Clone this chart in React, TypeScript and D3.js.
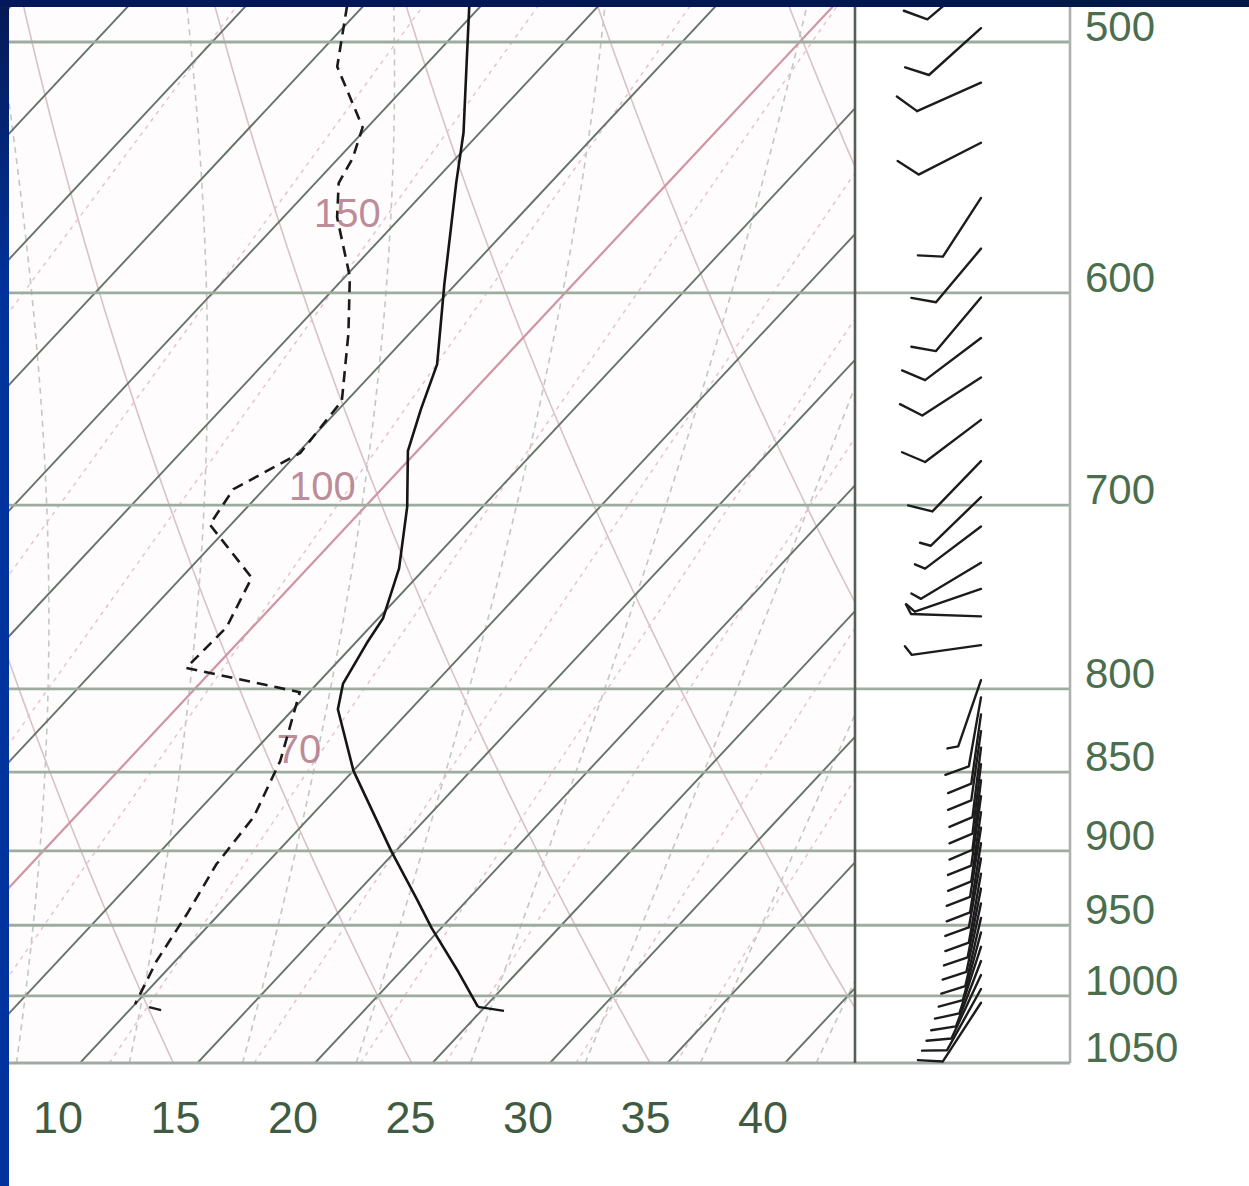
import React from 'react';
import * as d3 from 'd3';

// ---------------- data ----------------
const pressureLevels = [500, 600, 700, 800, 850, 900, 950, 1000, 1050];
const tempTicks = [10, 15, 20, 25, 30, 35, 40];
const isotherms = [-40, -35, -30, -25, -20, -15, -10, -5, 0, 5, 10, 15, 20, 25, 30, 35, 40, 45];
const dryAdiabatTheta = [-10, 0, 10, 20, 30, 40, 50, 60, 70, 80];
const moistAdiabatTheta = [0, 5, 10, 15, 20, 25, 30, 35, 40, 45];
const mixingRatios = [1, 2, 3, 5, 8, 12, 16, 20, 28, 36];

// temperature profile (hPa, degC)
const tempP = [487, 509, 534, 554, 574, 596, 632, 653, 673, 701, 733, 760, 774, 797, 812, 849, 900, 932, 952, 983, 1008];
const tempT = [-15.5, -13.2, -10.7, -9.0, -7.3, -5.5, -2.6, -1.5, -0.4, 1.8, 3.9, 5.2, 5.5, 6.1, 6.9, 10.0, 14.8, 17.8, 19.6, 22.5, 24.7];

// dew point profile (hPa, degC)
const dewP = [487, 509, 532, 544, 554, 568, 593, 618, 649, 674, 692, 710, 738, 765, 788, 802, 843, 878, 909, 941, 975, 1006];
const dewT = [-20.7, -18.7, -15.2, -14.4, -14.0, -12.7, -9.8, -7.6, -5.2, -4.9, -6.3, -5.9, -2.0, -1.1, -1.2, 4.6, 6.5, 7.6, 7.9, 8.6, 9.2, 10.0];

// wind (hPa, direction deg, speed kt)
const windP = [476, 495, 515, 538, 560, 581, 602, 620, 638, 658, 678, 696, 711, 730, 744, 759, 775, 795,
  805, 815, 825, 835, 845, 855, 865, 875, 885, 895, 905, 915, 925, 935, 945, 955, 965, 975, 985, 995, 1005];
const windDir = [230, 228, 246, 243, 213, 220, 220, 233, 237, 233, 224, 226, 233, 239, 251, 272, 262, 199,
  190, 188, 188, 187, 187, 187, 188, 188, 189, 189, 190, 190, 191, 192, 193, 195, 198, 201, 205, 209, 213];
const windSpd = [10, 10, 10, 10, 10, 10, 10, 10, 10, 10, 10, 5, 5, 5, 5, 5, 5, 5,
  10, 10, 10, 10, 10, 10, 10, 10, 10, 10, 10, 10, 10, 10, 10, 10, 10, 10, 10, 10, 10];

// line labels
const lineLabels = ['150', '100', '70'];
const lineLabelP = [572, 697.5, 844.5];
const lineLabelT = [-13.3, -3.5, 6.45];

// ---------------- layout ----------------
const W = 1249, H = 1186;
const LEFT = 9, TOP = 7, PLOT_R = 855, WIND_R = 1070, BOTTOM = 1063;
const SKEW = 0.935;

const yP = d3.scaleLog().domain([500, 1050]).range([42, 1063]);
const xT = d3.scaleLinear().domain([10, 40]).range([80, 785]);
const sx = (t: number, p: number) => xT(t) + SKEW * (BOTTOM - yP(p));
const lineGen = d3.line<[number, number]>().x(d => sx(d[1], d[0])).y(d => yP(d[0]));

function esat(tc: number) { return 6.112 * Math.exp(17.67 * tc / (tc + 243.5)); }
function moistLapse(TK: number, p: number) {
  const Rd = 287.04, cp = 1005.7, L = 2.501e6, eps = 0.622;
  const es = esat(TK - 273.15);
  const rs = eps * es / (p - es);
  return (Rd * TK + L * rs) / (p * (cp + (L * L * rs * eps) / (Rd * TK * TK)));
}
function moistAdiabat(thw: number): [number, number][] {
  const up: [number, number][] = [];
  let T = thw + 273.15;
  for (let p = 1000; p >= 465; p -= 5) {
    up.push([p, T - 273.15]);
    const dp = -5;
    const k1 = moistLapse(T, p);
    const k2 = moistLapse(T + 0.5 * dp * k1, p + 0.5 * dp);
    T += dp * k2;
  }
  const down: [number, number][] = [];
  T = thw + 273.15;
  for (let p = 1000; p < 1050; p += 5) {
    const dp = 5;
    const k1 = moistLapse(T, p);
    const k2 = moistLapse(T + 0.5 * dp * k1, p + 0.5 * dp);
    T += dp * k2;
    down.push([p + dp, T - 273.15]);
  }
  return [...down.reverse(), ...up];
}
function dryAdiabat(th: number): [number, number][] {
  const pts: [number, number][] = [];
  for (let p = 1050; p >= 460; p -= 10) pts.push([p, (th + 273.15) * Math.pow(p / 1000, 0.2857) - 273.15]);
  return pts;
}
function mixLine(r: number): [number, number][] {
  const pts: [number, number][] = [];
  for (let p = 1050; p >= 460; p -= 25) {
    const e = (r / 1000) * p / (0.622 + r / 1000);
    const l = Math.log(e / 6.112);
    pts.push([p, 243.5 * l / (17.67 - l)]);
  }
  return pts;
}

function Barb({ p, dir, spd }: { p: number; dir: number; spd: number }) {
  const x0 = 981, y0 = yP(p);
  const a = dir * Math.PI / 180;
  const ux = Math.sin(a), uy = -Math.cos(a);
  const L = 70;
  const x1 = x0 + ux * L, y1 = y0 + uy * L;
  const ang = Math.atan2(uy, ux) + 60 * Math.PI / 180;
  const fx = Math.cos(ang), fy = Math.sin(ang);
  const parts: string[] = [`M${x0},${y0}L${x1},${y1}`];
  const full = Math.floor(spd / 10);
  const half = spd % 10 >= 5;
  let k = 0;
  for (let i = 0; i < full; i++, k++) {
    const bx = x1 - ux * 8 * k, by = y1 - uy * 8 * k;
    parts.push(`M${bx},${by}L${bx + fx * 25},${by + fy * 25}`);
  }
  if (half) {
    const bx = x1 - ux * 8 * k, by = y1 - uy * 8 * k;
    parts.push(`M${bx},${by}L${bx + fx * 11},${by + fy * 11}`);
  }
  return <path d={parts.join('')} fill="none" stroke="#1c1c1c" strokeWidth={2.4} strokeLinecap="round" strokeLinejoin="round" />;
}

export default function App() {
  const tempPts: [number, number][] = tempP.map((p, i) => [p, tempT[i]]);
  const dewPts: [number, number][] = dewP.map((p, i) => [p, dewT[i]]);
  const tLast = tempPts[tempPts.length - 1];
  const dLast = dewPts[dewPts.length - 1];
  const font = "'Liberation Sans', Arial, sans-serif";

  return (
    <svg width={W} height={H} viewBox={`0 0 ${W} ${H}`}
      style={{ position: 'absolute', left: 0, top: 0, background: '#ffffff' }}
      fontFamily={font}>
      <defs>
        <clipPath id="plotClip">
          <rect x={LEFT} y={TOP} width={PLOT_R - LEFT} height={BOTTOM - TOP} />
        </clipPath>
        <linearGradient id="leftBlue" x1="0" y1="0" x2="0" y2="1">
          <stop offset="0" stopColor="#061a55" />
          <stop offset="0.25" stopColor="#00329c" />
          <stop offset="1" stopColor="#0033a0" />
        </linearGradient>
        <linearGradient id="topBlue" x1="0" y1="0" x2="1" y2="0">
          <stop offset="0" stopColor="#03185a" />
          <stop offset="1" stopColor="#001848" />
        </linearGradient>
      </defs>
      <rect x={0} y={0} width={W} height={H} fill="#ffffff" />
      <rect x={LEFT} y={TOP} width={PLOT_R - LEFT} height={BOTTOM - TOP} fill="#fefcfd" />

      <g clipPath="url(#plotClip)">
        {/* dry adiabats */}
        {dryAdiabatTheta.map(th => (
          <path key={'da' + th} d={lineGen(dryAdiabat(th)) || ''} fill="none" stroke="#d8c2c6" strokeWidth={1.6} />
        ))}
        {/* moist adiabats */}
        {moistAdiabatTheta.map(th => (
          <path key={'ma' + th} d={lineGen(moistAdiabat(th)) || ''} fill="none" stroke="#c3c8c2" strokeWidth={1.6} strokeDasharray="6,5" />
        ))}
        {/* mixing ratio */}
        {mixingRatios.map(r => (
          <path key={'mr' + r} d={lineGen(mixLine(r)) || ''} fill="none" stroke="#e6c4cf" strokeWidth={1.5} strokeDasharray="4,5" />
        ))}
        {/* isotherms */}
        {isotherms.map(t => (
          <path key={'it' + t} d={lineGen([[1050, t], [460, t]]) || ''} fill="none"
            stroke={t === 0 ? '#cf95a3' : '#66746a'} strokeWidth={t === 0 ? 2.2 : 1.9} />
        ))}
        {/* line labels */}
        {lineLabels.map((s, i) => (
          <text key={'ll' + s} x={sx(lineLabelT[i], lineLabelP[i])} y={yP(lineLabelP[i])} fontSize={40} fill="#b07886" fillOpacity={0.85}>{s}</text>
        ))}
      </g>

      {/* isobars */}
      {pressureLevels.map(p => (
        <line key={'ib' + p} x1={LEFT} x2={WIND_R} y1={yP(p)} y2={yP(p)} stroke="#9eaca0" strokeWidth={2.8} />
      ))}

      {/* profiles */}
      <g clipPath="url(#plotClip)">
        <path d={lineGen(tempPts) || ''} fill="none" stroke="#151515" strokeWidth={2.6} strokeLinejoin="round" />
        <path d={`M${sx(tLast[1], tLast[0])},${yP(tLast[0])}l26,4`} fill="none" stroke="#151515" strokeWidth={2.4} />
        <path d={lineGen(dewPts) || ''} fill="none" stroke="#1a1a1a" strokeWidth={2.6} strokeDasharray="11,7" />
        <path d={`M${sx(dLast[1], dLast[0]) + 14},${yP(dLast[0]) + 3}l12,3`} fill="none" stroke="#1a1a1a" strokeWidth={2.4} />
      </g>

      {/* frame lines */}
      <line x1={PLOT_R} x2={PLOT_R} y1={TOP} y2={BOTTOM} stroke="#575e58" strokeWidth={2.6} />
      <line x1={WIND_R} x2={WIND_R} y1={TOP} y2={BOTTOM} stroke="#adb0ad" strokeWidth={2.6} />

      {/* wind barbs */}
      {windP.map((p, i) => (
        <Barb key={'wb' + i} p={p} dir={windDir[i]} spd={windSpd[i]} />
      ))}

      {/* pressure labels */}
      {pressureLevels.map(p => (
        <text key={'pl' + p} x={1085} y={yP(p) - 1} fontSize={42} fill="#4b6e4e">{p}</text>
      ))}

      {/* temperature labels */}
      {tempTicks.map(t => (
        <text key={'tl' + t} x={xT(t) - 22} y={1133} fontSize={45} fill="#3f5c42" textAnchor="middle">{t}</text>
      ))}

      {/* slide border */}
      <rect x={0} y={0} width={LEFT} height={H} fill="url(#leftBlue)" />
      <rect x={0} y={0} width={W} height={TOP} fill="url(#topBlue)" />
    </svg>
  );
}
